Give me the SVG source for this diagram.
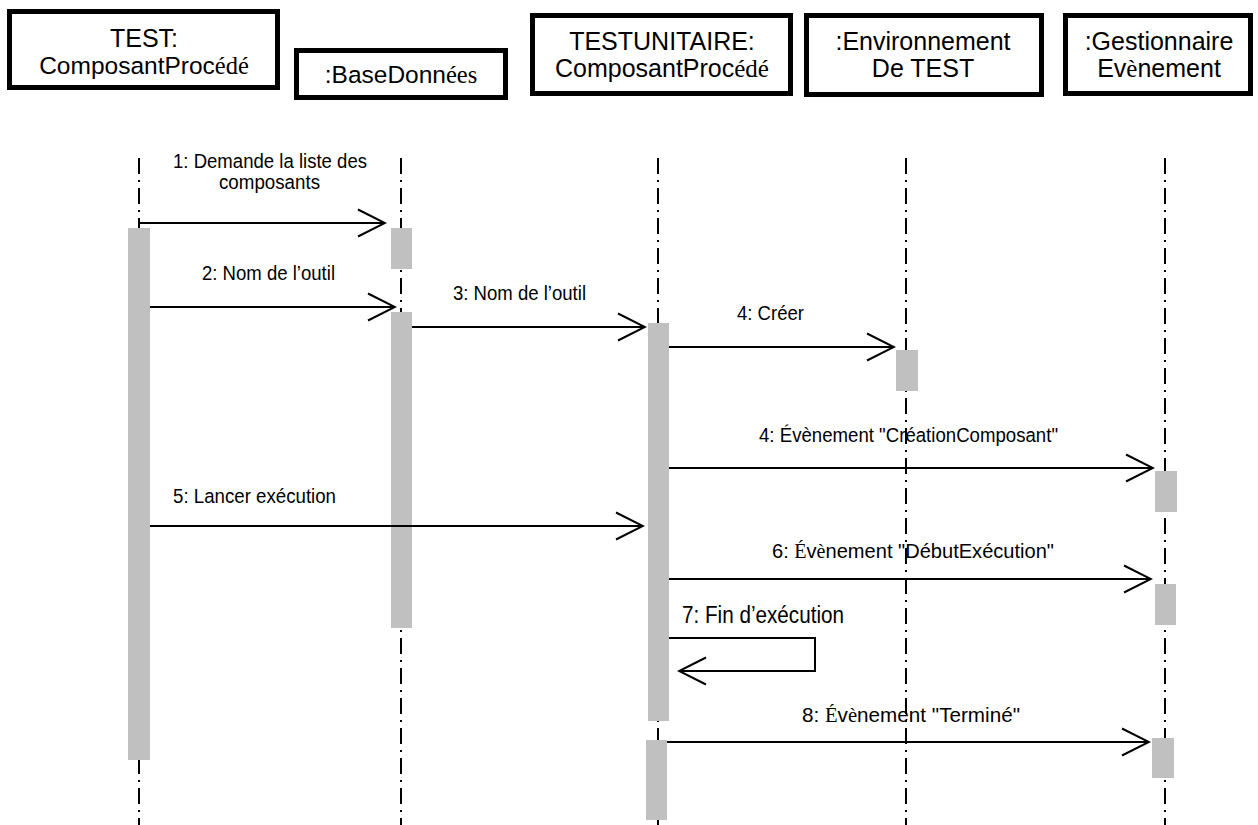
<svg xmlns="http://www.w3.org/2000/svg" width="1258" height="825" viewBox="0 0 1258 825">
<style>
.box{fill:#fff;stroke:#000;stroke-width:5}
.bt{font-family:"Liberation Sans",Arial,sans-serif;font-size:25px;fill:#000;text-anchor:middle}
.life{stroke:#000;stroke-width:2;stroke-dasharray:16 6 2 6;fill:none}
.act{fill:#c0c0c0}
.msg{stroke:#000;stroke-width:2;fill:none;marker-end:url(#open)}
.lbl{font-family:"Liberation Sans",Arial,sans-serif;font-size:20.5px;fill:#000}
.srf{font-family:"Liberation Serif","Times New Roman",serif}
</style>
<defs>
<marker id="open" markerUnits="userSpaceOnUse" markerWidth="32" markerHeight="32" viewBox="-30 -16 32 32" refX="0" refY="0" orient="auto">
<path d="M-27,-13.5 L0,0 L-27,13.5" fill="none" stroke="#000" stroke-width="2"/>
</marker>
</defs>
<rect width="1258" height="825" fill="#fff"/>
<g id="node-test">
<rect class="box" x="9.5" y="11.5" width="268" height="76"/>
<text class="bt" x="144" y="47">TEST:</text>
<text class="bt" x="144" y="74" style="font-size:24.5px">ComposantProc<tspan class="srf">édé</tspan></text>
</g>
<g id="node-base">
<rect class="box" x="296.5" y="50.5" width="209" height="47"/>
<text class="bt" x="401" y="83" style="font-size:24.5px">:BaseDonn<tspan class="srf">ées</tspan></text>
</g>
<g id="node-testunitaire">
<rect class="box" x="532.5" y="15.5" width="258" height="78"/>
<text class="bt" x="662" y="50">TESTUNITAIRE:</text>
<text class="bt" x="662" y="77">ComposantProc<tspan class="srf">édé</tspan></text>
</g>
<g id="node-env">
<rect class="box" x="806.5" y="15.5" width="235" height="79"/>
<text class="bt" x="923" y="50">:Environnement</text>
<text class="bt" x="923" y="77">De TEST</text>
</g>
<g id="node-gest">
<rect class="box" x="1065.5" y="15.5" width="185" height="78"/>
<text class="bt" x="1159" y="50">:Gestionnaire</text>
<text class="bt" x="1159" y="77">Ev<tspan class="srf">è</tspan>nement</text>
</g>
<g id="lifelines">
<line class="life" x1="139" y1="158" x2="139" y2="825"/>
<line class="life" x1="401" y1="158" x2="401" y2="825"/>
<line class="life" x1="658" y1="158" x2="658" y2="825"/>
<line class="life" x1="906" y1="158" x2="906" y2="825"/>
<line class="life" x1="1165" y1="158" x2="1165" y2="825"/>
</g>
<g id="activations">
<rect class="act" x="128" y="228" width="22" height="532"/>
<rect class="act" x="391" y="228" width="21" height="41"/>
<rect class="act" x="391" y="312" width="21" height="316"/>
<rect class="act" x="648" y="323" width="21" height="398"/>
<rect class="act" x="646" y="740" width="21" height="80"/>
<rect class="act" x="896" y="350" width="22" height="41"/>
<rect class="act" x="1155" y="471" width="22" height="41"/>
<rect class="act" x="1155" y="584" width="21" height="41"/>
<rect class="act" x="1152" y="738" width="22" height="40"/>
</g>
<g id="connectors">
<line class="msg" x1="139" y1="223" x2="385" y2="223"/>
<line class="msg" x1="150" y1="307" x2="395" y2="307"/>
<line class="msg" x1="412" y1="327" x2="645" y2="327"/>
<line class="msg" x1="669" y1="347" x2="894" y2="347"/>
<line class="msg" x1="669" y1="468" x2="1153" y2="468"/>
<line class="msg" x1="150" y1="526" x2="643" y2="526"/>
<line class="msg" x1="669" y1="579" x2="1151" y2="579"/>
<polyline class="msg" points="669,638 815,638 815,671 679,671"/>
<line class="msg" x1="667" y1="742" x2="1149" y2="742"/>
</g>
<g id="labels">
<text class="lbl" x="173" y="168" textLength="194" lengthAdjust="spacingAndGlyphs">1: Demande la liste des</text>
<text class="lbl" x="219" y="189" textLength="101" lengthAdjust="spacingAndGlyphs">composants</text>
<text class="lbl" x="202" y="280" textLength="133" lengthAdjust="spacingAndGlyphs">2: Nom de l’outil</text>
<text class="lbl" x="453" y="300" textLength="133" lengthAdjust="spacingAndGlyphs">3: Nom de l’outil</text>
<text class="lbl" x="737" y="320" textLength="67" lengthAdjust="spacingAndGlyphs">4: Créer</text>
<text class="lbl" x="759" y="442" textLength="299" lengthAdjust="spacingAndGlyphs">4: Évènement "CréationComposant"</text>
<text class="lbl" x="173" y="503" textLength="163" lengthAdjust="spacingAndGlyphs">5: Lancer exécution</text>
<text class="lbl" x="772" y="558" textLength="282" lengthAdjust="spacingAndGlyphs">6: <tspan class="srf">É</tspan>v<tspan class="srf">è</tspan>nement "DébutExécution"</text>
<text class="lbl" x="682" y="623" style="font-size:23.5px" textLength="162" lengthAdjust="spacingAndGlyphs">7: Fin d’exécution</text>
<text class="lbl" x="802" y="722" textLength="218" lengthAdjust="spacingAndGlyphs">8: <tspan class="srf">É</tspan>v<tspan class="srf">è</tspan>nement "Terminé"</text>
</g>
</svg>
